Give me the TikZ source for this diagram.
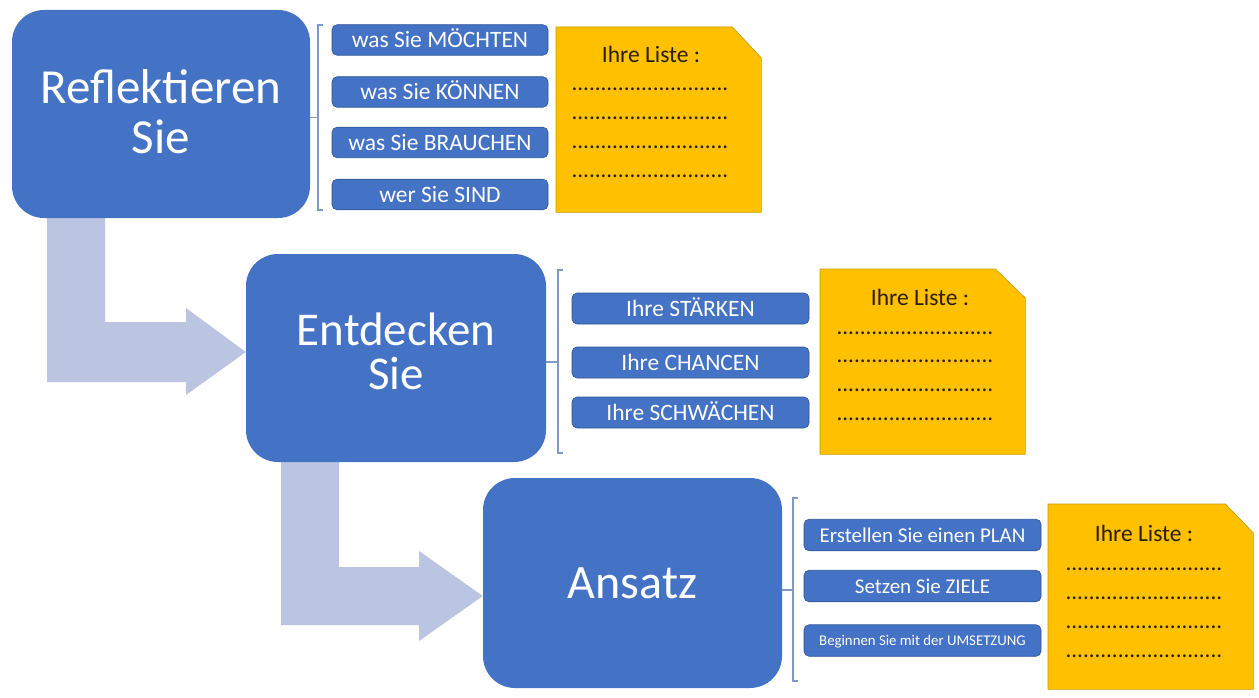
\documentclass[tikz,border=0pt]{standalone}
\usepackage{fontspec}
\setmainfont{Carlito}
\usetikzlibrary{backgrounds}
\definecolor{boxblue}{HTML}{4472C4}
\definecolor{boxedge}{HTML}{2F5597}
\definecolor{arrowfill}{HTML}{BBC5E2}
\definecolor{notefill}{HTML}{FFC000}
\definecolor{noteedge}{HTML}{C99A06}
\definecolor{brkcol}{HTML}{7F98C6}
\definecolor{notetext}{HTML}{2A1E0A}
\newcommand\listdots{...........................}
\newcommand\lowpad[1]{\rule[-#1]{0pt}{#1}}
\begin{document}
\begin{tikzpicture}[x=1pt,y=-1pt,
  bigbox/.style={fill=boxblue, rounded corners=32pt, text=white, align=center, inner sep=0pt},
  itembox/.style={fill=boxblue, draw=boxedge, line width=0.6pt, rounded corners=5pt, text=white, inner sep=0pt,
     font=\fontsize{23.5}{26}\selectfont, text height=19.5pt, text depth=3.5pt},
  itemboxs/.style={itembox, minimum width=237pt, minimum height=31.5pt, font=\fontsize{21}{24}\selectfont, text height=17.8pt, text depth=3.2pt},
  notebg/.style={fill=notefill, draw=noteedge, line width=0.6pt},
  notetitle/.style={text=notetext, font=\fontsize{23.5}{26}\selectfont, anchor=base, inner sep=0pt},
  notedots/.style={text=notetext, font=\fontsize{23}{26}\selectfont, anchor=base, inner sep=0pt},
  brk/.style={draw=brkcol, line width=1.2pt},
  arrowshape/.style={fill=arrowfill}]
\useasboundingbox (0,0) rectangle (1259,698);

% main boxes
\node[bigbox, minimum width=298pt, minimum height=208pt, font=\fontsize{49}{50}\selectfont] (b1) at (161,114) {Reflektieren\\Sie\lowpad{6pt}};
\node[bigbox, minimum width=300pt, minimum height=208pt, font=\fontsize{47}{44}\selectfont] (b2) at (396,358) {Entdecken\\Sie\lowpad{14pt}};
\node[bigbox, minimum width=299pt, minimum height=210pt, font=\fontsize{48}{50}\selectfont] (b3) at (632.5,583) {Ansatz};

% bent arrows
\coordinate (tip1) at (b2.west |- 0,352);
\coordinate (tip2) at (b3.west |- 0,596);
\begin{pgfonlayer}{background}
\fill[arrowshape] (47,212) -- (105,212) -- (105,322) -- (186,322) -- (186,308) -- (tip1)
   -- (186,395) -- (186,382) -- (47,382) -- cycle;
\fill[arrowshape] (281,455) -- (339,455) -- (339,567) -- (419,567) -- (419,551) -- (tip2)
   -- (419,641) -- (419,625) -- (281,625) -- cycle;
\end{pgfonlayer}

% group 1
\node[itembox, minimum width=216pt, minimum height=30.5pt] (i11) at (440,40) {was Sie MÖCHTEN};
\node[itembox, minimum width=216pt, minimum height=30.5pt] (i12) at (440,92) {was Sie KÖNNEN};
\node[itembox, minimum width=216pt, minimum height=30.5pt] (i13) at (440,142.5) {was Sie BRAUCHEN};
\node[itembox, minimum width=216pt, minimum height=30.5pt] (i14) at (440,194.5) {wer Sie SIND};
\coordinate (k1t) at (318,25);
\coordinate (k1b) at (318,210);
\coordinate (k1m) at (318,117.5);
\draw[brk] ([xshift=5pt]k1t) -- (k1t) -- (k1b) -- ([xshift=5pt]k1b);
\draw[brk] (b1.east |- k1m) -- (k1m);

\node[minimum width=205pt, minimum height=185pt, anchor=north west, inner sep=0pt] (n1) at (556,27) {};
\path[notebg] (n1.north west) -- ([xshift=-29pt]n1.north east) -- ([yshift=-31pt]n1.north east)
   -- (n1.south east) -- (n1.south west) -- cycle;
\node[notetitle] (n1t) at (651,63) {Ihre Liste :};
\node[notedots] (n1d1) at (650,91) {\listdots};
\node[notedots] (n1d2) at (650,120) {\listdots};
\node[notedots] (n1d3) at (650,149) {\listdots};
\node[notedots] (n1d4) at (650,178) {\listdots};

% group 2
\node[itembox, minimum width=237pt, minimum height=31pt] (i21) at (690.5,308.5) {Ihre STÄRKEN};
\node[itembox, minimum width=237pt, minimum height=31pt] (i22) at (690.5,362.5) {Ihre CHANCEN};
\node[itembox, minimum width=237pt, minimum height=31pt] (i23) at (690.5,412.5) {Ihre SCHWÄCHEN};
\coordinate (k2t) at (558,270);
\coordinate (k2b) at (558,453);
\coordinate (k2m) at (558,362);
\draw[brk] ([xshift=5pt]k2t) -- (k2t) -- (k2b) -- ([xshift=5pt]k2b);
\draw[brk] (b2.east |- k2m) -- (k2m);

\node[minimum width=205pt, minimum height=185pt, anchor=north west, inner sep=0pt] (n2) at (820,269) {};
\path[notebg] (n2.north west) -- ([xshift=-30pt]n2.north east) -- ([yshift=-29pt]n2.north east)
   -- (n2.south east) -- (n2.south west) -- cycle;
\node[notetitle] (n2t) at (920,305) {Ihre Liste :};
\node[notedots] (n2d1) at (915,334) {\listdots};
\node[notedots] (n2d2) at (915,362) {\listdots};
\node[notedots] (n2d3) at (915,391) {\listdots};
\node[notedots] (n2d4) at (915,420) {\listdots};

% group 3
\node[itemboxs] (i31) at (922.5,535) {Erstellen Sie einen PLAN};
\node[itemboxs] (i32) at (922.5,586) {Setzen Sie ZIELE};
\node[itemboxs, font=\fontsize{14.8}{17}\selectfont, text height=12.5pt, text depth=2.3pt] (i33) at (922.5,640.5) {Beginnen Sie mit der UMSETZUNG};
\coordinate (k3t) at (793,498);
\coordinate (k3b) at (793,681);
\coordinate (k3m) at (793,590);
\draw[brk] ([xshift=5pt]k3t) -- (k3t) -- (k3b) -- ([xshift=5pt]k3b);
\draw[brk] (b3.east |- k3m) -- (k3m);

\node[minimum width=205pt, minimum height=185pt, anchor=north west, inner sep=0pt] (n3) at (1048,504) {};
\path[notebg] (n3.north west) -- ([xshift=-28pt]n3.north east) -- ([yshift=-29pt]n3.north east)
   -- (n3.south east) -- (n3.south west) -- cycle;
\node[notetitle] (n3t) at (1144,541) {Ihre Liste :};
\node[notedots] (n3d1) at (1144,570) {\listdots};
\node[notedots] (n3d2) at (1144,599) {\listdots};
\node[notedots] (n3d3) at (1144,628) {\listdots};
\node[notedots] (n3d4) at (1144,657) {\listdots};
\end{tikzpicture}
\end{document}
